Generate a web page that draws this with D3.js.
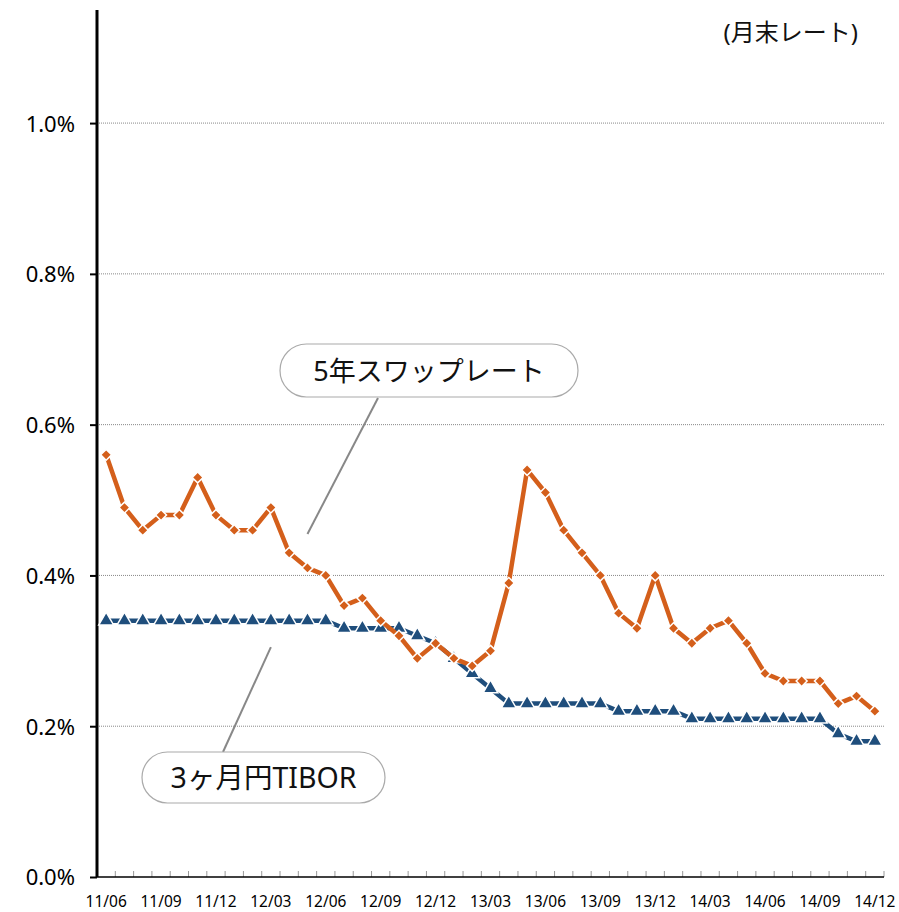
<!DOCTYPE html>
<html>
<head>
<meta charset="utf-8">
<script src="https://cdn.jsdelivr.net/npm/d3@7"></script>
<style>
  body { margin: 0; background: #fff; }
  svg { font-family: "Noto Sans", "Noto Sans CJK JP", sans-serif; }
</style>
</head>
<body>
<div id="chart"></div>
<script>
// monthly data, 2011/06 .. 2014/12
const months = [
  "11/06","11/07","11/08","11/09","11/10","11/11","11/12",
  "12/01","12/02","12/03","12/04","12/05","12/06","12/07","12/08","12/09","12/10","12/11","12/12",
  "13/01","13/02","13/03","13/04","13/05","13/06","13/07","13/08","13/09","13/10","13/11","13/12",
  "14/01","14/02","14/03","14/04","14/05","14/06","14/07","14/08","14/09","14/10","14/11","14/12"
];
const swap5y = [
  0.56, 0.49, 0.46, 0.48, 0.48, 0.53, 0.48,
  0.46, 0.46, 0.49, 0.43, 0.41, 0.40, 0.36, 0.37, 0.34, 0.32, 0.29, 0.31,
  0.29, 0.28, 0.30, 0.39, 0.54, 0.51, 0.46, 0.43, 0.40, 0.35, 0.33, 0.40,
  0.33, 0.31, 0.33, 0.34, 0.31, 0.27, 0.26, 0.26, 0.26, 0.23, 0.24, 0.22
];
const tibor3m = [
  0.34, 0.34, 0.34, 0.34, 0.34, 0.34, 0.34,
  0.34, 0.34, 0.34, 0.34, 0.34, 0.34, 0.33, 0.33, 0.33, 0.33, 0.32, 0.31,
  0.29, 0.27, 0.25, 0.23, 0.23, 0.23, 0.23, 0.23, 0.23, 0.22, 0.22, 0.22,
  0.22, 0.21, 0.21, 0.21, 0.21, 0.21, 0.21, 0.21, 0.21, 0.19, 0.18, 0.18
];
const yTicks = [0, 0.2, 0.4, 0.6, 0.8, 1.0];
const xLabels = months.filter((m, i) => i % 3 === 0);

const width = 899, height = 912;
const plotLeft = 97, plotRight = 884, plotTop = 10, plotBottom = 877;

const svg = d3.select("#chart").append("svg")
  .attr("width", width)
  .attr("height", height);

const x = d3.scaleBand()
  .domain(months)
  .range([plotLeft, plotRight])
  .padding(0);

const y = d3.scaleLinear()
  .domain([0, 1.15])
  .range([plotBottom, plotTop]);

const cx = m => x(m) + x.bandwidth() / 2;

// gridlines
svg.append("g")
  .selectAll("line")
  .data(yTicks.filter(d => d > 0))
  .join("line")
  .attr("x1", plotLeft)
  .attr("x2", plotRight)
  .attr("y1", d => y(d))
  .attr("y2", d => y(d))
  .attr("stroke", "#888")
  .attr("stroke-width", 1)
  .attr("stroke-dasharray", "1,1");

// y axis
const yAxis = svg.append("g")
  .attr("transform", `translate(${plotLeft},0)`)
  .call(d3.axisLeft(y).tickValues(yTicks).tickSize(7).tickPadding(15)
    .tickFormat(d => d.toFixed(1) + "%"));
yAxis.attr("font-size", 22).attr("font-family", "Noto Sans, sans-serif");
yAxis.select(".domain").remove();
yAxis.selectAll(".tick line").attr("stroke", "#000").attr("stroke-width", 2);
yAxis.selectAll(".tick text").attr("fill", "#000").attr("dy", "0.36em");
svg.append("line")
  .attr("x1", plotLeft).attr("x2", plotLeft)
  .attr("y1", plotTop).attr("y2", plotBottom)
  .attr("stroke", "#000")
  .attr("stroke-width", 3);

// x axis: ticks at month boundaries pointing up
const boundaries = months.map(m => x(m)).concat([plotRight]).slice(1);
svg.append("g")
  .selectAll("line")
  .data(boundaries)
  .join("line")
  .attr("x1", d => d).attr("x2", d => d)
  .attr("y1", plotBottom).attr("y2", plotBottom - 6)
  .attr("stroke", "#999")
  .attr("stroke-width", 1);
svg.append("line")
  .attr("x1", plotLeft).attr("x2", plotRight)
  .attr("y1", plotBottom).attr("y2", plotBottom)
  .attr("stroke", "#000")
  .attr("stroke-width", 1.5);

svg.append("g")
  .selectAll("text")
  .data(xLabels)
  .join("text")
  .attr("x", d => cx(d))
  .attr("y", 907)
  .attr("text-anchor", "middle")
  .attr("font-size", 15.5)
  .text(d => d);

// series
const line = d3.line()
  .x((d, i) => cx(months[i]))
  .y(d => y(d));

const series = [
  { name: "tibor", values: tibor3m, color: "#1F4E7C", symbol: d3.symbolTriangle, size: 95, rotate: 0 },
  { name: "swap", values: swap5y, color: "#D45F1B", symbol: d3.symbolSquare, size: 60, rotate: 45 }
];

series.forEach(s => {
  svg.append("path")
    .datum(s.values)
    .attr("fill", "none")
    .attr("stroke", s.color)
    .attr("stroke-width", 4.5)
    .attr("stroke-linejoin", "round")
    .attr("d", line);

  svg.append("g")
    .selectAll("path")
    .data(s.values)
    .join("path")
    .attr("transform", (d, i) => `translate(${cx(months[i])},${y(d)}) rotate(${s.rotate})`)
    .attr("d", d3.symbol().type(s.symbol).size(s.size))
    .attr("fill", s.color)
    .attr("stroke", "#fff")
    .attr("stroke-width", 1.5);
});

// callouts
function callout(label, bx, by, bw, bh, size, from, to) {
  svg.append("line")
    .attr("x1", from[0]).attr("y1", from[1])
    .attr("x2", to[0]).attr("y2", to[1])
    .attr("stroke", "#888")
    .attr("stroke-width", 2);
  svg.append("rect")
    .attr("x", bx).attr("y", by)
    .attr("width", bw).attr("height", bh)
    .attr("rx", bh / 2).attr("ry", bh / 2)
    .attr("fill", "#fff")
    .attr("stroke", "#aaa")
    .attr("stroke-width", 1.2);
  svg.append("text")
    .attr("x", bx + bw / 2)
    .attr("y", by + bh / 2 + 10)
    .attr("text-anchor", "middle")
    .attr("font-size", size)
    .attr("fill", "#111")
    .text(label);
}

callout("5年スワップレート", 280, 344, 298, 53, 27,
  [cx("12/05"), y(0.455)], [378, 398]);
callout("3ヶ月円TIBOR", 142, 752, 243, 51, 28.5,
  [cx("12/03"), y(0.305)], [223, 752]);

// unit note
svg.append("text")
  .attr("x", 858)
  .attr("y", 41)
  .attr("text-anchor", "end")
  .attr("font-size", 24)
  .attr("fill", "#111")
  .text("(月末レート)");
</script>
</body>
</html>
